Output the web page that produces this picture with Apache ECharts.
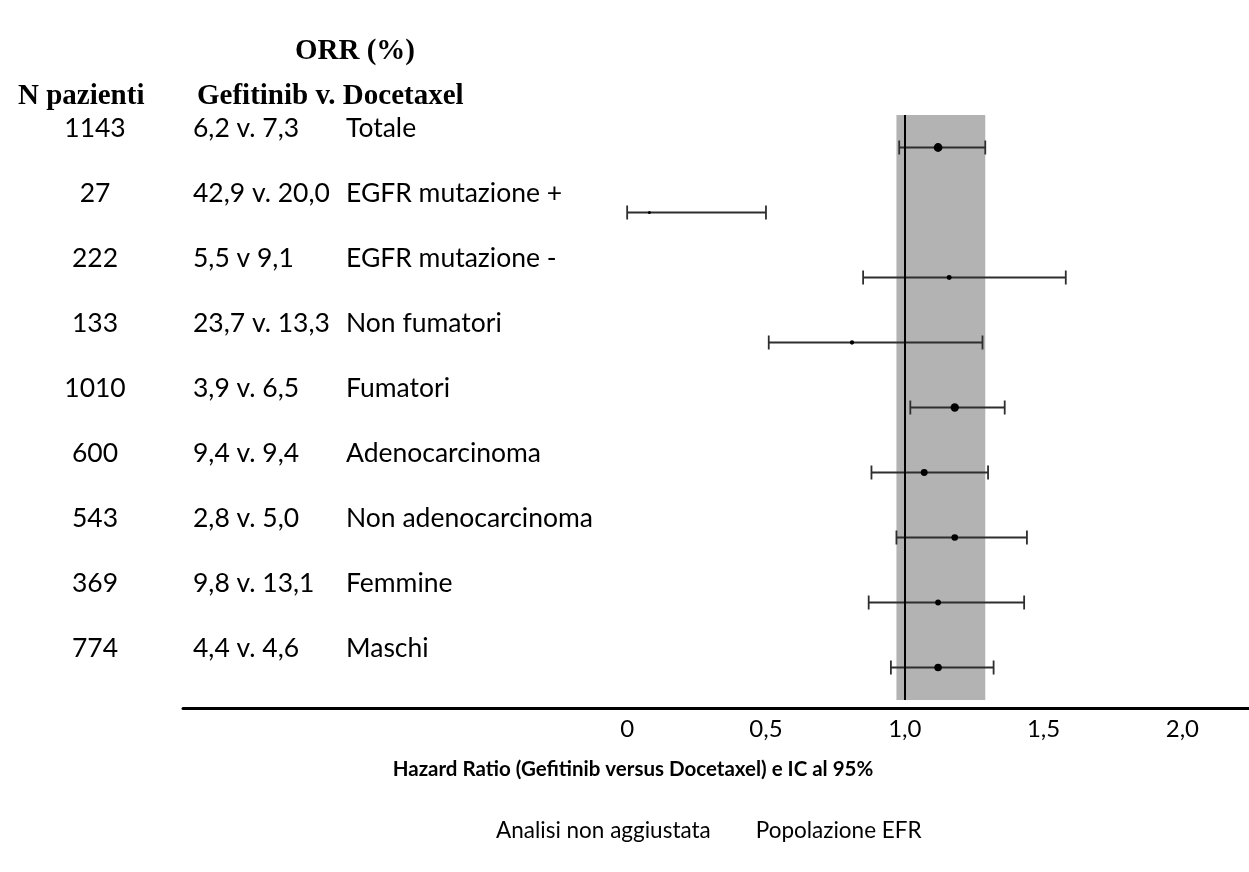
<!DOCTYPE html>
<html>
<head>
<meta charset="utf-8">
<script src="https://cdn.jsdelivr.net/npm/echarts@6/dist/echarts.min.js"></script>
<style>
  html, body { margin: 0; background: #fff; }
  #chart { width: 1249px; height: 872px; }
</style>
</head>
<body>
<div id="chart"></div>
<script>
// sottogruppi, dall'alto in basso
const sottogruppi = ['Totale', 'EGFR mutazione +', 'EGFR mutazione -', 'Non fumatori', 'Fumatori',
  'Adenocarcinoma', 'Non adenocarcinoma', 'Femmine', 'Maschi'];
const pazienti = [1143, 27, 222, 133, 1010, 600, 543, 369, 774];
const orr = ['6,2 v. 7,3', '42,9 v. 20,0', '5,5 v 9,1', '23,7 v. 13,3', '3,9 v. 6,5',
  '9,4 v. 9,4', '2,8 v. 5,0', '9,8 v. 13,1', '4,4 v. 4,6'];
const hr = [1.12, 0.08, 1.16, 0.81, 1.18, 1.07, 1.18, 1.12, 1.12];
const icInf = [0.98, 0.0, 0.85, 0.51, 1.02, 0.88, 0.97, 0.87, 0.95];
const icSup = [1.29, 0.50, 1.58, 1.28, 1.36, 1.30, 1.44, 1.43, 1.32];
const fasciaEFR = [0.97, 1.29];
const tickValori = [0, 0.5, 1, 1.5, 2];
const tickEtichette = ['0', '0,5', '1,0', '1,5', '2,0'];

const chart = echarts.init(document.getElementById('chart'));

const barre = sottogruppi.map((s, i) => [icInf[i], icSup[i], i]);
const punti = sottogruppi.map((s, i) => [hr[i], i]);

const font = 'Lato, "Open Sans", sans-serif';
const serif = '"Liberation Serif", "Times New Roman", serif';
const testoRiga = { fontFamily: font, fontSize: 26.5, lineHeight: 38, color: '#000' };

const option = {
  backgroundColor: '#fff',
  animation: false,
  title: [
    {
      text: 'ORR (%)', left: 350, top: 32, textAlign: 'center',
      textStyle: { fontFamily: serif, fontWeight: 'bold', fontSize: 29, lineHeight: 30, color: '#000' }
    },
    {
      text: 'N pazienti', left: 13, top: 77,
      textStyle: { fontFamily: serif, fontWeight: 'bold', fontSize: 29, lineHeight: 30, color: '#000' }
    },
    {
      text: 'Gefitinib v. Docetaxel', left: 192, top: 77,
      textStyle: { fontFamily: serif, fontWeight: 'bold', fontSize: 29, lineHeight: 30, color: '#000' }
    },
    {
      text: 'Hazard Ratio (Gefitinib versus Docetaxel) e IC al 95%', left: 628, top: 752, textAlign: 'center',
      textStyle: { fontFamily: font, fontWeight: 'bold', fontSize: 20.5, lineHeight: 24, color: '#000' }
    }
  ],
  legend: {
    data: ['Analisi non aggiustata', 'Popolazione EFR'],
    left: 486, top: 814,
    icon: 'none', itemWidth: 0, itemGap: 40,
    selectedMode: false,
    textStyle: { fontFamily: font, fontSize: 22.5, lineHeight: 24, color: '#000' }
  },
  grid: { left: 183, right: 0, top: 115, bottom: 172 },
  xAxis: {
    type: 'value',
    min: -1.6, max: 2.24,
    offset: 8,
    axisLine: { show: true, lineStyle: { color: '#000', width: 3 } },
    axisTick: { show: false },
    splitLine: { show: false },
    axisLabel: {
      customValues: tickValori,
      formatter: v => tickEtichette[tickValori.indexOf(v)],
      margin: 9,
      fontFamily: font, fontSize: 24, color: '#000'
    }
  },
  yAxis: [
    {
      // colonna N pazienti
      type: 'category',
      data: sottogruppi,
      inverse: true,
      axisLine: { show: false },
      axisTick: { show: false },
      splitLine: { show: false },
      axisLabel: {
        interval: 0,
        align: 'center',
        verticalAlign: 'bottom',
        margin: 88,
        formatter: (v, i) => String(pazienti[i]),
        ...testoRiga
      }
    },
    {
      // colonne ORR e sottogruppo
      type: 'category',
      data: sottogruppi,
      inverse: true,
      position: 'left',
      axisLine: { show: false },
      axisTick: { show: false },
      splitLine: { show: false },
      axisLabel: {
        interval: 0,
        align: 'left',
        verticalAlign: 'bottom',
        margin: -10,
        formatter: (v, i) => `{o|${orr[i]}}{l|${v}}`,
        rich: {
          o: { width: 153, align: 'left', ...testoRiga },
          l: { align: 'left', ...testoRiga }
        }
      }
    }
  ],
  series: [
    {
      name: 'Popolazione EFR',
      type: 'line',
      data: [],
      z: 1,
      markArea: {
        silent: true,
        itemStyle: { color: '#b3b3b3' },
        data: [[{ xAxis: fasciaEFR[0] }, { xAxis: fasciaEFR[1] }]]
      }
    },
    {
      name: 'Analisi non aggiustata',
      type: 'custom',
      z: 3,
      data: barre,
      encode: { x: [0, 1], y: 2 },
      renderItem: function (params, api) {
        const r = api.value(2);
        const a = api.coord([api.value(0), r]);
        const b = api.coord([api.value(1), r]);
        const h = 7;
        const st = { stroke: '#2e2e2e', lineWidth: 1.8 };
        return {
          type: 'group',
          children: [
            { type: 'line', shape: { x1: a[0], y1: a[1], x2: b[0], y2: b[1] }, style: st },
            { type: 'line', shape: { x1: a[0], y1: a[1] - h, x2: a[0], y2: a[1] + h }, style: st },
            { type: 'line', shape: { x1: b[0], y1: b[1] - h, x2: b[0], y2: b[1] + h }, style: st }
          ]
        };
      }
    },
    {
      name: 'Analisi non aggiustata',
      type: 'scatter',
      z: 4,
      data: punti,
      // dimensione del punto legata al numero di pazienti
      symbolSize: (val, p) => 2 + Math.sqrt(pazienti[p.dataIndex]) * 0.2,
      itemStyle: { color: '#000', opacity: 1 },
      markLine: {
        silent: true,
        symbol: 'none',
        label: { show: false },
        lineStyle: { color: '#000', width: 2, type: 'solid' },
        data: [{ xAxis: 1 }]
      }
    }
  ]
};

chart.setOption(option);
</script>
</body>
</html>
